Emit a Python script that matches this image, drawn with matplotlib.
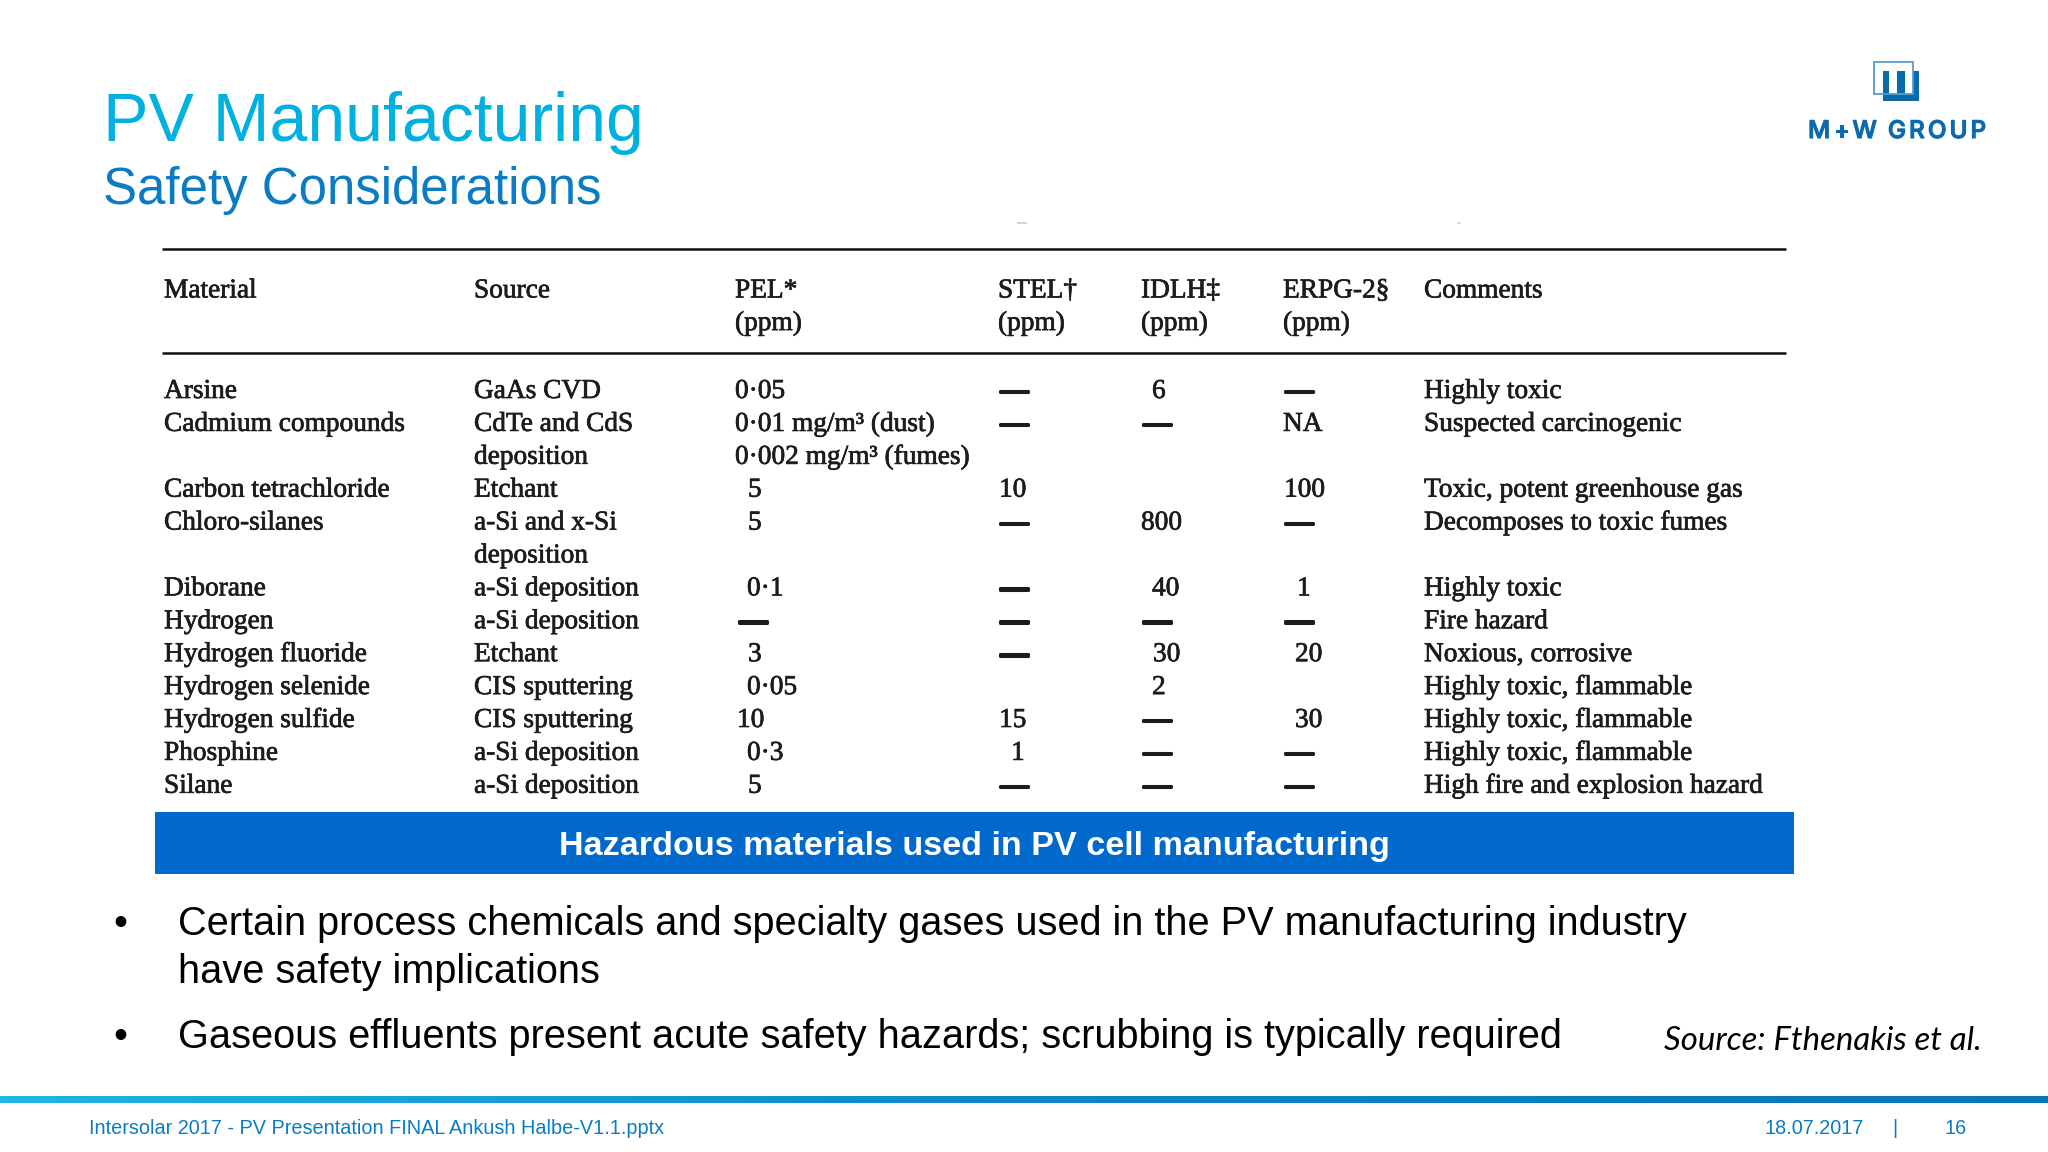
import numpy as np
import matplotlib
matplotlib.use('Agg')
import matplotlib.pyplot as plt
import matplotlib.patheffects as pe
from matplotlib.colors import LinearSegmentedColormap
from matplotlib.patches import Rectangle

TITLE = 'PV Manufacturing'
SUBTITLE = 'Safety Considerations'
LOGO_TEXT = 'M+W GROUP'
CAPTION = 'Hazardous materials used in PV cell manufacturing'
BULLETS = [
    ['Certain process chemicals and specialty gases used in the PV manufacturing industry',
     'have safety implications'],
    ['Gaseous effluents present acute safety hazards; scrubbing is typically required'],
]
SOURCE = 'Source: Fthenakis et al.'
FOOTER = 'Intersolar 2017 - PV Presentation FINAL Ankush Halbe-V1.1.pptx'
DATE = '18.07.2017'
PAGE = '16'

HEADERS = ['Material', 'Source', 'PEL*', 'STEL†', 'IDLH‡', 'ERPG-2§', 'Comments']
UNITS = ['', '', '(ppm)', '(ppm)', '(ppm)', '(ppm)', '']

D = '—'
material = ['Arsine', 'Cadmium compounds', '', 'Carbon tetrachloride', 'Chloro-silanes', '',
            'Diborane', 'Hydrogen', 'Hydrogen fluoride', 'Hydrogen selenide',
            'Hydrogen sulfide', 'Phosphine', 'Silane']
source = ['GaAs CVD', 'CdTe and CdS', 'deposition', 'Etchant', 'a-Si and x-Si', 'deposition',
          'a-Si deposition', 'a-Si deposition', 'Etchant', 'CIS sputtering',
          'CIS sputtering', 'a-Si deposition', 'a-Si deposition']
pel = ['0·05', '0·01 mg/m³ (dust)', '0·002 mg/m³ (fumes)', '5', '5', '',
       '0·1', D, '3', '0·05', '10', '0·3', '5']
stel = [D, D, '', '10', D, '', D, D, D, '', '15', '1', D]
idlh = ['6', D, '', '', '800', '', '40', D, '30', '2', D, D, D]
erpg = [D, 'NA', '', '100', D, '', '1', D, '20', '', '30', D, D]
comments = ['Highly toxic', 'Suspected carcinogenic', '', 'Toxic, potent greenhouse gas',
            'Decomposes to toxic fumes', '', 'Highly toxic', 'Fire hazard', 'Noxious, corrosive',
            'Highly toxic, flammable', 'Highly toxic, flammable', 'Highly toxic, flammable',
            'High fire and explosion hazard']

# layout, pixels of the 2048x1152 slide
COL_X = [164, 474, 735, 998, 1141, 1283, 1424]
ROW0_Y = 391.5
ROW_STEP = 32.9
PEL_IND = [0, 0, 0, 13, 13, 0, 12, 4, 13, 12, 2, 12, 13]
STEL_IND = [2, 2, 0, 1, 2, 0, 2, 2, 2, 0, 1, 13, 2]
IDLH_IND = [11, 2, 0, 0, 0, 0, 11, 2, 12, 11, 2, 2, 2]
ERPG_IND = [2, 0, 0, 1, 2, 0, 14, 2, 12, 0, 12, 2, 2]

CYAN = '#00b0e0'
BLUE = '#0a7cc4'
INK = '#1c1c1c'
SERIF = 'Liberation Serif'
SANS = 'Liberation Sans'
TABLE_SIZE = 19.7

# the table is a scan in the original, a thin outline gives it the same heavier look
soft = [pe.withStroke(linewidth=0.5, foreground=INK)]
thick = [pe.withStroke(linewidth=2.2, foreground=INK)]

fig = plt.figure(figsize=(20.48, 11.52), dpi=100)
ax = fig.add_axes([0, 0, 1, 1])
ax.set_xlim(0, 2048)
ax.set_ylim(1152, 0)
ax.axis('off')

# Titel
ax.text(103, 141, TITLE, color=CYAN, fontsize=49, family=SANS, va='baseline')
ax.text(103, 204, SUBTITLE, color=BLUE, fontsize=36.7, family=SANS, va='baseline')

# Logo
LOGO = '#0b69ad'
ax.add_patch(Rectangle((1883, 71), 36, 30, color=LOGO, lw=0))
ax.add_patch(Rectangle((1889, 71), 8, 23, color='white', lw=0))
ax.add_patch(Rectangle((1905, 71), 8, 23, color='white', lw=0))
ax.add_patch(Rectangle((1874, 62), 39, 32, fill=False, ec='#5b9cc9', lw=1.3))

# Logo-Schrift Zeichen fuer Zeichen, wegen der Sperrung
renderer = fig.canvas.get_renderer()
logo_stroke = [pe.withStroke(linewidth=0.8, foreground=LOGO)]
x = 1808
for ch in LOGO_TEXT:
    t = ax.text(x, 138, ch, color=LOGO, fontsize=17.5, family='Inter', weight='medium',
                va='baseline', path_effects=logo_stroke)
    if ch == ' ':
        x += 8
    else:
        x += t.get_window_extent(renderer).width + 3

# Tabelle
ax.plot([162, 1786], [249, 249], color='#111111', lw=1.8, solid_capstyle='butt')
ax.plot([162, 1786], [352.5, 352.5], color='#111111', lw=1.8, solid_capstyle='butt')
# Reste vom Scan ueber der Tabelle
ax.plot([1017, 1027], [222.5, 222.5], color='#cccccc', lw=1.2, solid_capstyle='butt')
ax.plot([1457, 1461], [222.5, 222.5], color='#d4d4d4', lw=1.2, solid_capstyle='butt')

for col_x, head, unit in zip(COL_X, HEADERS, UNITS):
    ax.text(col_x, 291, head, color=INK, fontsize=TABLE_SIZE, family=SERIF, va='center',
            path_effects=soft)
    ax.text(col_x, 323.5, unit, color=INK, fontsize=TABLE_SIZE, family=SERIF, va='center',
            path_effects=soft)

columns = [(material, None), (source, None), (pel, PEL_IND), (stel, STEL_IND),
           (idlh, IDLH_IND), (erpg, ERPG_IND), (comments, None)]
for col_x, (values, indent) in zip(COL_X, columns):
    for i, value in enumerate(values):
        if not value:
            continue
        x = col_x + (indent[i] if indent else 0)
        ax.text(x, ROW0_Y + i * ROW_STEP, value, color=INK, fontsize=TABLE_SIZE,
                family=SERIF, va='center', path_effects=thick if value == D else soft)

# Balken unter der Tabelle
ax.add_patch(Rectangle((155, 812), 1639, 62, color='#0169cc', lw=0))
ax.text(974.5, 846.5, CAPTION, color='white', fontsize=24.6, weight='bold', family=SANS,
        ha='center', va='center')

# Aufzaehlung
y = 935
for lines in BULLETS:
    ax.text(120, y, '•', color='black', fontsize=28.6, family=SANS, ha='center', va='baseline')
    for line in lines:
        ax.text(178, y, line, color='black', fontsize=28.6, family=SANS, va='baseline')
        y += 48
    y += 17
ax.text(1664, 1050, SOURCE, color='black', fontsize=23.8, family='Lato', style='italic',
        va='baseline')

# Fussleiste
band = LinearSegmentedColormap.from_list('band', ['#1fb6e2', '#0b86c8', '#0777b8'])
ax.imshow(np.linspace(0, 1, 256).reshape(1, -1), cmap=band, aspect='auto',
          extent=(0, 2048, 1103, 1096), zorder=1)
ax.set_xlim(0, 2048)
ax.set_ylim(1152, 0)

ax.text(89, 1129, FOOTER, color=BLUE, fontsize=14.3, family=SANS, va='center')
ax.text(1764, 1129, DATE, color=BLUE, fontsize=14.3, family=SANS, va='center')
ax.text(1895, 1129, '|', color=BLUE, fontsize=14.3, family=SANS, ha='center', va='center')
ax.text(1944, 1129, PAGE, color=BLUE, fontsize=14.3, family=SANS, va='center')

fig.savefig('out.png', dpi=100, facecolor='white')
plt.close(fig)
